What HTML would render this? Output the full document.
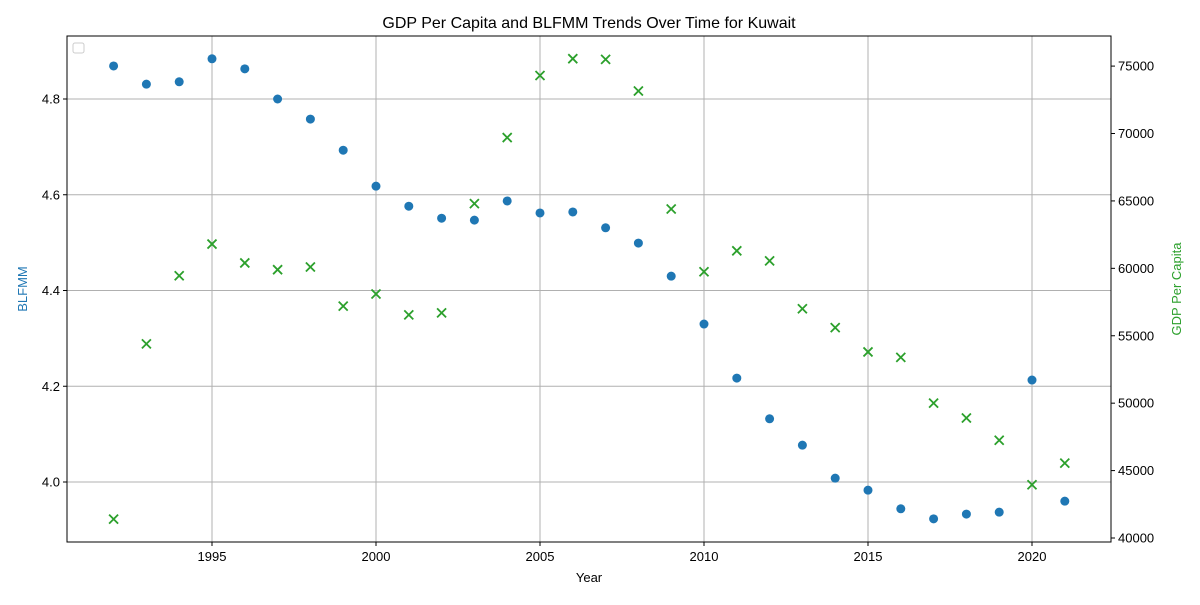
<!DOCTYPE html>
<html><head><meta charset="utf-8"><style>
body{margin:0;background:#fff}
svg{font-family:"Liberation Sans","DejaVu Sans",sans-serif}
</style></head><body>
<svg id="chart" width="1200" height="600" xmlns="http://www.w3.org/2000/svg">
<rect width="1200" height="600" fill="#fff"/>
<text x="589" y="28" text-anchor="middle" font-size="16">GDP Per Capita and BLFMM Trends Over Time for Kuwait</text>
<g id="grid"></g><g id="marks"></g><g id="axes"></g>
<rect x="67" y="36" width="1044" height="506" fill="none" stroke="#000" stroke-width="1"/>
<rect x="73" y="43" width="11" height="10" fill="#fff" stroke="#ccc" rx="2"/>
<text x="589" y="582" text-anchor="middle" font-size="13">Year</text>
<text transform="translate(27,289) rotate(-90)" text-anchor="middle" font-size="13" fill="#1f77b4">BLFMM</text>
<text transform="translate(1181,289) rotate(-90)" text-anchor="middle" font-size="13" fill="#2ca02c">GDP Per Capita</text>
</svg>
<script>
const years=[1992,1993,1994,1995,1996,1997,1998,1999,2000,2001,2002,2003,2004,2005,2006,2007,2008,2009,2010,2011,2012,2013,2014,2015,2016,2017,2018,2019,2020,2021];
const blfmm=[4.869,4.831,4.836,4.884,4.863,4.800,4.758,4.693,4.618,4.576,4.551,4.547,4.587,4.562,4.564,4.531,4.499,4.430,4.330,4.217,4.132,4.077,4.008,3.983,3.944,3.923,3.933,3.937,4.213,3.960];
const gdp=[41400,54400,59450,61800,60400,59900,60100,57200,58100,56550,56700,64800,69700,74300,75550,75500,73150,64400,59750,61300,60550,57000,55600,53800,53400,50000,48900,47250,43950,45550];
const xTicks=[1995,2000,2005,2010,2015,2020];
const leftTicks=[4.0,4.2,4.4,4.6,4.8];
const rightTicks=[40000,45000,50000,55000,60000,65000,70000,75000];
const X=v=>212+(v-1995)*32.8;
const YL=v=>482-(v-4.0)*478.75;
const YR=v=>538-(v-40000)*0.013483;
const NS="http://www.w3.org/2000/svg";
function mk(t,a,p){const e=document.createElementNS(NS,t);for(const k in a)e.setAttribute(k,a[k]);p.appendChild(e);return e;}
const grid=document.getElementById('grid'),marks=document.getElementById('marks'),axes=document.getElementById('axes');
xTicks.forEach(t=>{const x=X(t);
const g=mk('line',{x1:x,x2:x,y1:36,y2:542,stroke:'#b0b0b0','stroke-width':1},grid);

mk('line',{x1:x,x2:x,y1:542,y2:546,stroke:'#000'},axes);
const l=mk('text',{x:x,y:561,'text-anchor':'middle','font-size':13},axes);l.textContent=t;
});
leftTicks.forEach(t=>{const y=YL(t);
const g=mk('line',{x1:67,x2:1111,y1:y,y2:y,stroke:'#b0b0b0','stroke-width':1},grid);

mk('line',{x1:63,x2:67,y1:y,y2:y,stroke:'#000'},axes);
const l=mk('text',{x:60,y:y+4.5,'text-anchor':'end','font-size':13},axes);l.textContent=t.toFixed(1);
});
rightTicks.forEach(t=>{const y=YR(t);
mk('line',{x1:1111,x2:1115,y1:y,y2:y,stroke:'#000'},axes);
const l=mk('text',{x:1118,y:y+4.5,'font-size':13},axes);l.textContent=t;
});
years.forEach((yr,i)=>{const x=X(yr);
const c=mk('circle',{cx:x,cy:YL(blfmm[i]),r:4.5,fill:'#1f77b4'},marks);

const y=YR(gdp[i]);
const p=mk('path',{d:`M${x-4.5},${y-4.5}L${x+4.5},${y+4.5}M${x-4.5},${y+4.5}L${x+4.5},${y-4.5}`,stroke:'#2ca02c','stroke-width':1.8,fill:'none'},marks);
});
</script>
</body></html>
